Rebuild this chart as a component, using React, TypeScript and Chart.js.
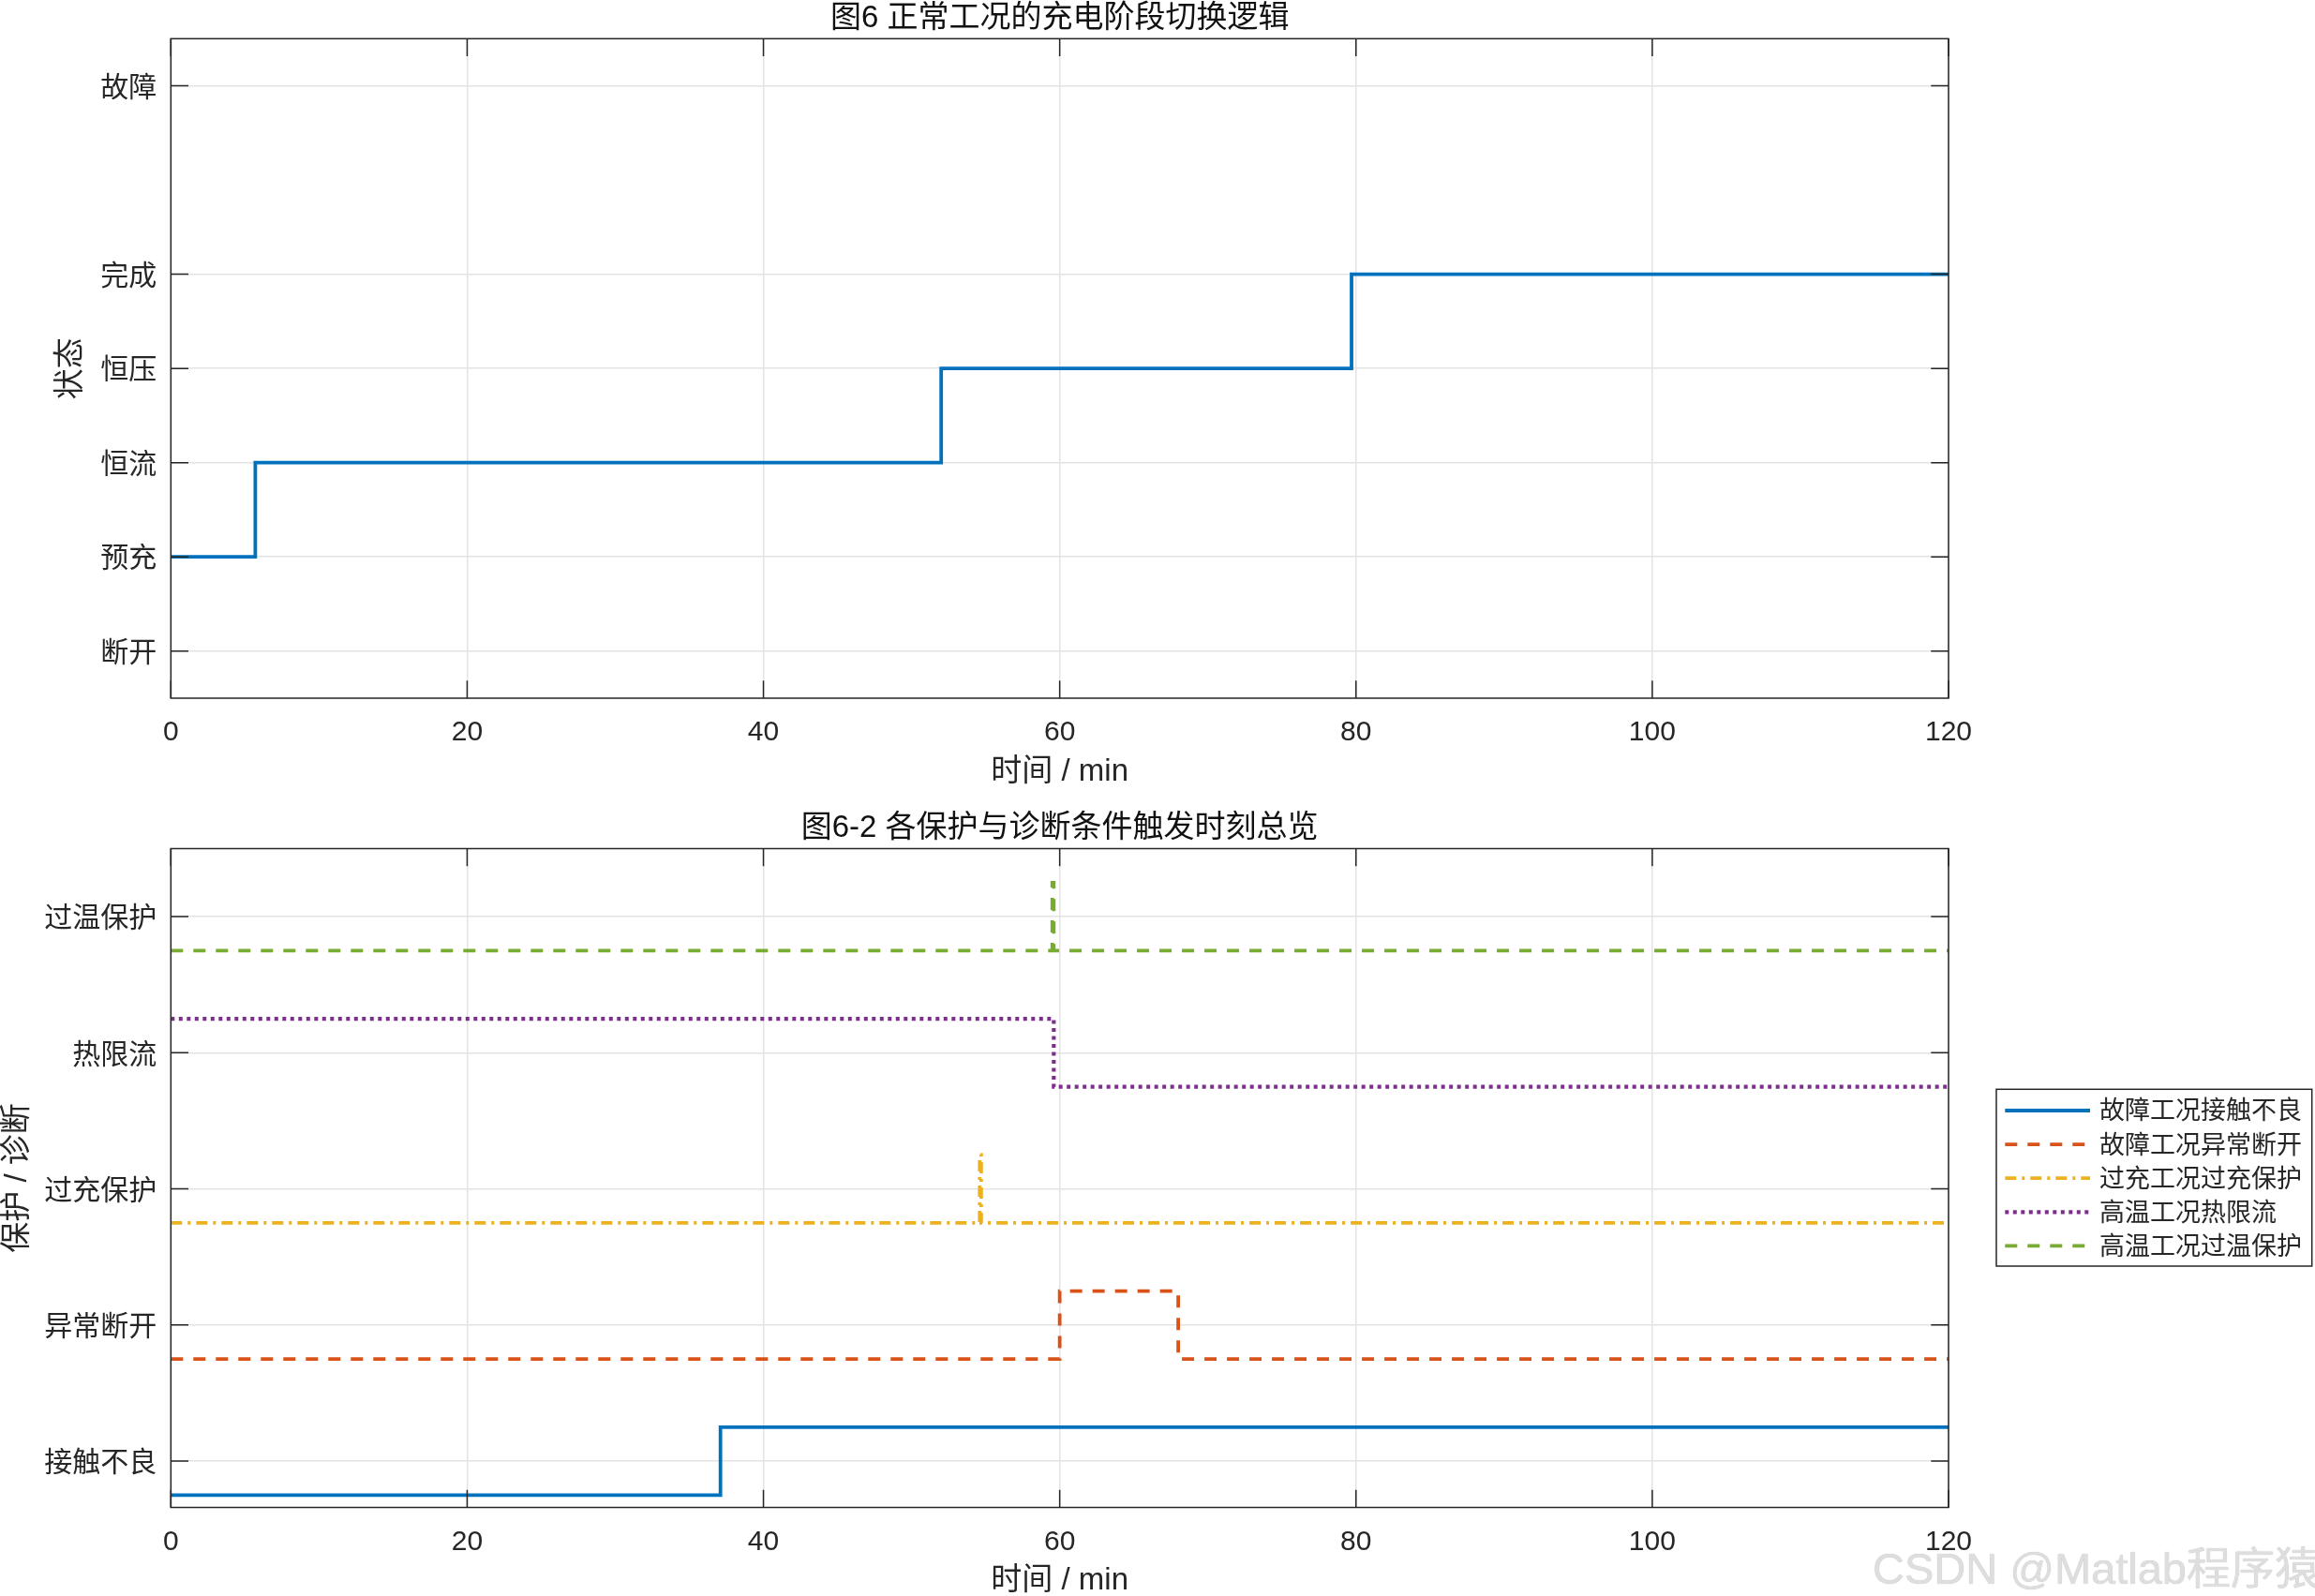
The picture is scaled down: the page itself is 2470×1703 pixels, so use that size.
import React, { useEffect, useRef } from 'react';
import { Chart, registerables } from 'chart.js';

Chart.register(...registerables);

const FONT_FAMILY = '"Liberation Sans", Arial, "Noto Sans CJK SC", sans-serif';
const TEXT_COLOR = '#262626';
const GRID_COLOR = '#e3e3e3';

// ---------------- Figure 1 data ----------------
const chart1Title = '图6 正常工况的充电阶段切换逻辑';
const chart1YTitle = '状态';
const stateTickValues = [0, 1, 2, 3, 4, 6];
const stateTickLabels = ['断开', '预充', '恒流', '恒压', '完成', '故障'];
const normalTimes = [0, 5.7, 52, 79.7, 120];
const normalStates = [1, 2, 3, 4, 4];

// ---------------- Figure 2 data ----------------
const chart2Title = '图6-2 各保护与诊断条件触发时刻总览';
const chart2YTitle = '保护 / 诊断';
const diagTickValues = [1, 2, 3, 4, 5];
const diagTickLabels = ['接触不良', '异常断开', '过充保护', '热限流', '过温保护'];
const seriesNames = ['故障工况接触不良', '故障工况异常断开', '过充工况过充保护', '高温工况热限流', '高温工况过温保护'];
const contactTimes = [0, 37.1, 120];
const contactValues = [0.75, 1.25, 1.25];
const openTimes = [0, 60, 68, 120];
const openValues = [1.75, 2.25, 1.75, 1.75];
const overchargeTimes = [0, 54.6, 54.7, 120];
const overchargeValues = [2.75, 3.25, 2.75, 2.75];
const thermalTimes = [0, 59.6, 120];
const thermalValues = [4.25, 3.75, 3.75];
const overtempTimes = [0, 59.5, 59.6, 120];
const overtempValues = [4.75, 5.25, 4.75, 4.75];

// ---------------- shared axis ----------------
const xTickValues = [0, 20, 40, 60, 80, 100, 120];
const xAxisTitle = '时间 / min';
const watermarkText = 'CSDN @Matlab程序猿';

const toPoints = (xs: number[], ys: number[]) => xs.map((x, i) => ({ x, y: ys[i] }));

const boxPlugin = {
  id: 'matlabBox',
  afterDatasetsDraw(chart: any) {
    const { ctx, chartArea: a, scales } = chart;
    const xs = scales.x;
    const ys = scales.y;
    const L = 18.7;
    ctx.save();
    ctx.strokeStyle = TEXT_COLOR;
    ctx.lineWidth = 1.5;
    ctx.setLineDash([]);
    ctx.beginPath();
    xs.ticks.forEach((t: any) => {
      const px = xs.getPixelForValue(t.value);
      ctx.moveTo(px, a.bottom);
      ctx.lineTo(px, a.bottom - L);
      ctx.moveTo(px, a.top);
      ctx.lineTo(px, a.top + L);
    });
    ys.ticks.forEach((t: any) => {
      const py = ys.getPixelForValue(t.value);
      ctx.moveTo(a.left, py);
      ctx.lineTo(a.left + L, py);
      ctx.moveTo(a.right, py);
      ctx.lineTo(a.right - L, py);
    });
    ctx.stroke();
    ctx.strokeRect(a.left, a.top, a.right - a.left, a.bottom - a.top);
    ctx.restore();
  },
};

const legendPlugin = {
  id: 'sideLegend',
  afterDraw(chart: any) {
    const ctx = chart.ctx;
    const left = 2130;
    const top = 311.3;
    const right = 2466.7;
    const bottom = 500;
    const rowStart = 334;
    const rowStep = 36.1;
    ctx.save();
    ctx.fillStyle = '#ffffff';
    ctx.fillRect(left, top, right - left, bottom - top);
    ctx.strokeStyle = TEXT_COLOR;
    ctx.lineWidth = 1.5;
    ctx.setLineDash([]);
    ctx.strokeRect(left, top, right - left, bottom - top);
    chart.data.datasets.forEach((ds: any, i: number) => {
      const y = rowStart + i * rowStep;
      ctx.strokeStyle = ds.borderColor;
      ctx.lineWidth = ds.borderWidth;
      ctx.setLineDash(ds.borderDash || []);
      ctx.beginPath();
      ctx.moveTo(2139.3, y);
      ctx.lineTo(2230, y);
      ctx.stroke();
      ctx.setLineDash([]);
      ctx.fillStyle = TEXT_COLOR;
      ctx.font = `27px ${FONT_FAMILY}`;
      ctx.textBaseline = 'middle';
      ctx.textAlign = 'left';
      ctx.fillText(ds.label, 2240, y + 2);
    });
    ctx.restore();
  },
};

type Cfg = {
  title: string;
  titlePad: { top: number; bottom: number };
  yTitle: string;
  yTitlePad: number;
  yMin: number;
  yMax: number;
  yTicks: number[];
  yLabels: string[];
  xHeight: number;
  xTitlePadBottom: number;
  datasets: any[];
  plugins: any[];
};

function buildConfig(c: Cfg): any {
  return {
    type: 'line',
    data: { datasets: c.datasets },
    plugins: c.plugins,
    options: {
      animation: false,
      responsive: false,
      devicePixelRatio: 1,
      events: [],
      layout: { padding: { left: 0, right: 391, top: 0, bottom: 0 } },
      elements: { point: { radius: 0 } },
      plugins: {
        legend: { display: false },
        tooltip: { enabled: false },
        title: {
          display: true,
          fullSize: false,
          text: c.title,
          color: '#111111',
          font: { family: FONT_FAMILY, size: 33, weight: 'normal', lineHeight: 1 },
          padding: c.titlePad,
        },
      },
      scales: {
        x: {
          type: 'linear',
          min: 0,
          max: 120,
          afterBuildTicks: (s: any) => {
            s.ticks = xTickValues.map((v) => ({ value: v }));
          },
          afterFit: (s: any) => {
            s.height = c.xHeight;
          },
          ticks: {
            color: TEXT_COLOR,
            font: { family: FONT_FAMILY, size: 30 },
            padding: 19,
            maxRotation: 0,
            autoSkip: false,
          },
          grid: { color: GRID_COLOR, lineWidth: 1.5, drawTicks: false },
          border: { display: false },
          title: {
            display: true,
            text: xAxisTitle,
            color: TEXT_COLOR,
            font: { family: FONT_FAMILY, size: 33, lineHeight: 1 },
            padding: { top: 0, bottom: c.xTitlePadBottom },
          },
        },
        y: {
          type: 'linear',
          min: c.yMin,
          max: c.yMax,
          afterBuildTicks: (s: any) => {
            s.ticks = c.yTicks.map((v) => ({ value: v }));
          },
          afterFit: (s: any) => {
            s.width = 182.3;
          },
          ticks: {
            color: TEXT_COLOR,
            font: { family: FONT_FAMILY, size: 30 },
            padding: 15,
            labelOffset: 3,
            autoSkip: false,
            callback: (v: number) => {
              const i = c.yTicks.indexOf(v);
              return i >= 0 ? c.yLabels[i] : '';
            },
          },
          grid: { color: GRID_COLOR, lineWidth: 1.5, drawTicks: false },
          border: { display: false },
          title: {
            display: true,
            text: c.yTitle,
            color: TEXT_COLOR,
            font: { family: FONT_FAMILY, size: 33, lineHeight: 1 },
            padding: { top: c.yTitlePad, bottom: 0 },
          },
        },
      },
    },
  };
}

const lineBase = {
  stepped: 'before',
  pointRadius: 0,
  fill: false,
  borderWidth: 3.8,
  borderCapStyle: 'butt',
  borderJoinStyle: 'miter',
  tension: 0,
};

function config1() {
  return buildConfig({
    title: chart1Title,
    titlePad: { top: 3.8, bottom: 4.5 },
    yTitle: chart1YTitle,
    yTitlePad: 59,
    yMin: -0.5,
    yMax: 6.5,
    yTicks: stateTickValues,
    yLabels: stateTickLabels,
    xHeight: 106,
    xTitlePadBottom: 10.5,
    plugins: [boxPlugin],
    datasets: [
      {
        ...lineBase,
        label: chart1YTitle,
        data: toPoints(normalTimes, normalStates),
        borderColor: '#0072BD',
      },
    ],
  });
}

function config2() {
  return buildConfig({
    title: chart2Title,
    titlePad: { top: 16.1, bottom: 5.4 },
    yTitle: chart2YTitle,
    yTitlePad: 2.5,
    yMin: 0.66,
    yMax: 5.5,
    yTicks: diagTickValues,
    yLabels: diagTickLabels,
    xHeight: 94.5,
    xTitlePadBottom: 0,
    plugins: [boxPlugin, legendPlugin],
    datasets: [
      { ...lineBase, label: seriesNames[0], data: toPoints(contactTimes, contactValues), borderColor: '#0072BD' },
      { ...lineBase, label: seriesNames[1], data: toPoints(openTimes, openValues), borderColor: '#D95319', borderDash: [13, 11] },
      { ...lineBase, label: seriesNames[2], data: toPoints(overchargeTimes, overchargeValues), borderColor: '#EDB120', borderDash: [12, 6, 3, 6] },
      { ...lineBase, label: seriesNames[3], data: toPoints(thermalTimes, thermalValues), borderColor: '#7E2F8E', borderDash: [4, 4.5], borderWidth: 4.2 },
      { ...lineBase, label: seriesNames[4], data: toPoints(overtempTimes, overtempValues), borderColor: '#77AC30', borderDash: [13, 11] },
    ],
  });
}

function ChartCanvas({ make, top, width, height }: { make: () => any; top: number; width: number; height: number }) {
  const ref = useRef<HTMLCanvasElement>(null);
  useEffect(() => {
    const chart = new Chart(ref.current as HTMLCanvasElement, make());
    return () => chart.destroy();
  }, [make]);
  return (
    <canvas
      ref={ref}
      width={width}
      height={height}
      style={{ position: 'absolute', left: 0, top, width, height, display: 'block' }}
    />
  );
}

export default function App() {
  return (
    <div
      style={{
        position: 'fixed',
        left: 0,
        top: 0,
        width: 2470,
        height: 1703,
        background: '#ffffff',
        overflow: 'hidden',
      }}
    >
      <ChartCanvas make={config1} top={0} width={2470} height={851} />
      <ChartCanvas make={config2} top={851} width={2470} height={852} />
      <div
        style={{
          position: 'absolute',
          left: 1998,
          top: 1650,
          fontFamily: FONT_FAMILY,
          fontSize: 47,
          lineHeight: '47px',
          color: '#dedede',
          textShadow: '0 0 1px #b5b5b5',
          whiteSpace: 'nowrap',
          pointerEvents: 'none',
        }}
      >
        {watermarkText}
      </div>
    </div>
  );
}
